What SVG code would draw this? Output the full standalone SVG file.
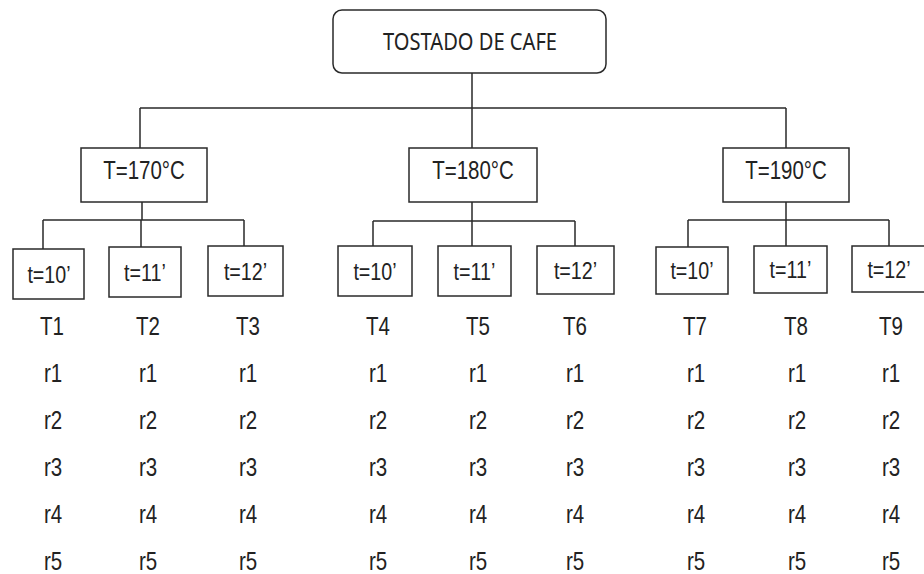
<svg xmlns="http://www.w3.org/2000/svg" width="924" height="574" viewBox="0 0 924 574">
<style>
.box{fill:#fff;stroke:#2a2a2a;stroke-width:1.5}
.ln{stroke:#2a2a2a;stroke-width:1.5;fill:none}
.t{font-family:"Liberation Sans",Arial,sans-serif;fill:#222;text-anchor:middle}
.big{font-size:25px}
.sm{font-size:24px}
.title{font-family:"Noto Sans","Open Sans",sans-serif;font-size:24px;fill:#222;text-anchor:middle}
</style>
<g id="connectors">
<path class="ln" d="M472 73V148M140 108H786M140 108V148M786 108V148"/>
<path class="ln" d="M142 202V220M43 220H244M43 220V249M141 220V247M244 220V246"/>
<path class="ln" d="M472 202V221M373 221H575M373 221V246M472 221V246M575 221V246"/>
<path class="ln" d="M786 202V220M688 220H889M688 220V247M786 220V246M889 220V246"/>
</g>
<g id="root">
<rect class="box" x="333" y="10" width="273" height="63" rx="9"/>
<text class="title" x="470" y="50" textLength="174" lengthAdjust="spacingAndGlyphs">TOSTADO DE CAFE</text>
</g>
<g id="T170">
<rect class="box" x="81" y="148" width="126" height="54"/>
<text class="t big" transform="translate(144,179) scale(0.82,1)">T=170°C</text>
</g>
<g id="T180">
<rect class="box" x="409" y="148" width="128" height="54"/>
<text class="t big" transform="translate(473,179) scale(0.82,1)">T=180°C</text>
</g>
<g id="T190">
<rect class="box" x="723" y="148" width="126" height="54"/>
<text class="t big" transform="translate(786,179) scale(0.82,1)">T=190°C</text>
</g>
<g id="g1t10"><rect class="box" x="13" y="249" width="71" height="50"/><text class="t sm" transform="translate(49,282.5) scale(0.82,1)">t=10’</text></g>
<g id="g1t11"><rect class="box" x="109" y="247" width="72" height="50"/><text class="t sm" transform="translate(145,280.5) scale(0.82,1)">t=11’</text></g>
<g id="g1t12"><rect class="box" x="208" y="246" width="75" height="50"/><text class="t sm" transform="translate(245.5,279.5) scale(0.82,1)">t=12’</text></g>
<g id="g2t10"><rect class="box" x="338" y="246" width="74" height="50"/><text class="t sm" transform="translate(375,279.5) scale(0.82,1)">t=10’</text></g>
<g id="g2t11"><rect class="box" x="438" y="246" width="73" height="50"/><text class="t sm" transform="translate(474.5,279.5) scale(0.82,1)">t=11’</text></g>
<g id="g2t12"><rect class="box" x="537" y="246" width="77" height="48"/><text class="t sm" transform="translate(575.5,278.5) scale(0.82,1)">t=12’</text></g>
<g id="g3t10"><rect class="box" x="656" y="247" width="72" height="47"/><text class="t sm" transform="translate(692,279) scale(0.82,1)">t=10’</text></g>
<g id="g3t11"><rect class="box" x="754" y="246" width="73" height="47"/><text class="t sm" transform="translate(790.5,278) scale(0.82,1)">t=11’</text></g>
<g id="g3t12"><rect class="box" x="852" y="246" width="74" height="46"/><text class="t sm" transform="translate(889,277.5) scale(0.82,1)">t=12’</text></g>
<g id="labels">
<g id="c1"><text class="t big" transform="translate(52,335) scale(0.82,1)">T1</text><text class="t big" transform="translate(53,382) scale(0.82,1)">r1</text><text class="t big" transform="translate(53,429) scale(0.82,1)">r2</text><text class="t big" transform="translate(53,476) scale(0.82,1)">r3</text><text class="t big" transform="translate(53,523) scale(0.82,1)">r4</text><text class="t big" transform="translate(53,570) scale(0.82,1)">r5</text></g>
<g id="c2"><text class="t big" transform="translate(148,335) scale(0.82,1)">T2</text><text class="t big" transform="translate(148,382) scale(0.82,1)">r1</text><text class="t big" transform="translate(148,429) scale(0.82,1)">r2</text><text class="t big" transform="translate(148,476) scale(0.82,1)">r3</text><text class="t big" transform="translate(148,523) scale(0.82,1)">r4</text><text class="t big" transform="translate(148,570) scale(0.82,1)">r5</text></g>
<g id="c3"><text class="t big" transform="translate(248,335) scale(0.82,1)">T3</text><text class="t big" transform="translate(248,382) scale(0.82,1)">r1</text><text class="t big" transform="translate(248,429) scale(0.82,1)">r2</text><text class="t big" transform="translate(248,476) scale(0.82,1)">r3</text><text class="t big" transform="translate(248,523) scale(0.82,1)">r4</text><text class="t big" transform="translate(248,570) scale(0.82,1)">r5</text></g>
<g id="c4"><text class="t big" transform="translate(378,335) scale(0.82,1)">T4</text><text class="t big" transform="translate(378,382) scale(0.82,1)">r1</text><text class="t big" transform="translate(378,429) scale(0.82,1)">r2</text><text class="t big" transform="translate(378,476) scale(0.82,1)">r3</text><text class="t big" transform="translate(378,523) scale(0.82,1)">r4</text><text class="t big" transform="translate(378,570) scale(0.82,1)">r5</text></g>
<g id="c5"><text class="t big" transform="translate(478,335) scale(0.82,1)">T5</text><text class="t big" transform="translate(478,382) scale(0.82,1)">r1</text><text class="t big" transform="translate(478,429) scale(0.82,1)">r2</text><text class="t big" transform="translate(478,476) scale(0.82,1)">r3</text><text class="t big" transform="translate(478,523) scale(0.82,1)">r4</text><text class="t big" transform="translate(478,570) scale(0.82,1)">r5</text></g>
<g id="c6"><text class="t big" transform="translate(575,335) scale(0.82,1)">T6</text><text class="t big" transform="translate(575,382) scale(0.82,1)">r1</text><text class="t big" transform="translate(575,429) scale(0.82,1)">r2</text><text class="t big" transform="translate(575,476) scale(0.82,1)">r3</text><text class="t big" transform="translate(575,523) scale(0.82,1)">r4</text><text class="t big" transform="translate(575,570) scale(0.82,1)">r5</text></g>
<g id="c7"><text class="t big" transform="translate(695,335) scale(0.82,1)">T7</text><text class="t big" transform="translate(696,382) scale(0.82,1)">r1</text><text class="t big" transform="translate(696,429) scale(0.82,1)">r2</text><text class="t big" transform="translate(696,476) scale(0.82,1)">r3</text><text class="t big" transform="translate(696,523) scale(0.82,1)">r4</text><text class="t big" transform="translate(696,570) scale(0.82,1)">r5</text></g>
<g id="c8"><text class="t big" transform="translate(796,335) scale(0.82,1)">T8</text><text class="t big" transform="translate(797,382) scale(0.82,1)">r1</text><text class="t big" transform="translate(797,429) scale(0.82,1)">r2</text><text class="t big" transform="translate(797,476) scale(0.82,1)">r3</text><text class="t big" transform="translate(797,523) scale(0.82,1)">r4</text><text class="t big" transform="translate(797,570) scale(0.82,1)">r5</text></g>
<g id="c9"><text class="t big" transform="translate(891,335) scale(0.82,1)">T9</text><text class="t big" transform="translate(891,382) scale(0.82,1)">r1</text><text class="t big" transform="translate(891,429) scale(0.82,1)">r2</text><text class="t big" transform="translate(891,476) scale(0.82,1)">r3</text><text class="t big" transform="translate(891,523) scale(0.82,1)">r4</text><text class="t big" transform="translate(891,570) scale(0.82,1)">r5</text></g>
</g>
</svg>
